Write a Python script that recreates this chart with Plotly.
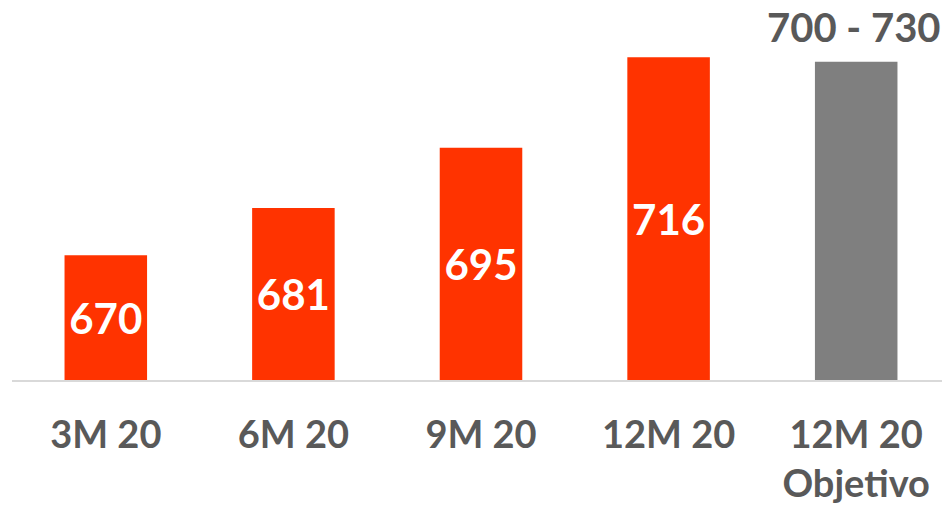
import plotly.graph_objects as go

categories = ["3M 20", "6M 20", "9M 20", "12M 20", "12M 20<br>Objetivo"]
values = [670, 681, 695, 716, 715]
bar_labels = ["670", "681", "695", "716", ""]
target_label = "700 - 730"
bar_colors = ["#ff3300", "#ff3300", "#ff3300", "#ff3300", "#7f7f7f"]

axis_min = 641
axis_max = 727

FONT = "Lato"

fig = go.Figure()
fig.add_trace(go.Bar(
    x=categories,
    y=[v - axis_min for v in values],
    base=axis_min,
    marker=dict(color=bar_colors, line=dict(width=0)),
    text=bar_labels,
    textposition="inside",
    insidetextanchor="middle",
    constraintext="none",
    textangle=0,
    textfont=dict(family=FONT, size=42, color="white", weight="bold"),
    hoverinfo="skip",
))

fig.add_annotation(
    x=categories[-1], y=values[-1],
    text=target_label,
    showarrow=False,
    yanchor="bottom",
    yshift=10,
    xshift=-2,
    borderpad=0,
    font=dict(family=FONT, size=40, color="#595959", weight="bold"),
)

fig.update_layout(
    width=950, height=510,
    margin=dict(l=4, r=8, t=2, b=138, autoexpand=False),
    paper_bgcolor="white",
    plot_bgcolor="white",
    bargap=0.56,
    showlegend=False,
    xaxis=dict(
        showline=True, linecolor="#d9d9d9", linewidth=2,
        showgrid=False, ticks="", ticklabelstandoff=20, automargin=False,
        tickfont=dict(family=FONT, size=38, color="#595959", weight="bold"),
    ),
    yaxis=dict(
        range=[axis_min, axis_max], visible=False, showgrid=False,
        zeroline=False, automargin=False,
    ),
)

fig.write_html("out.html")
